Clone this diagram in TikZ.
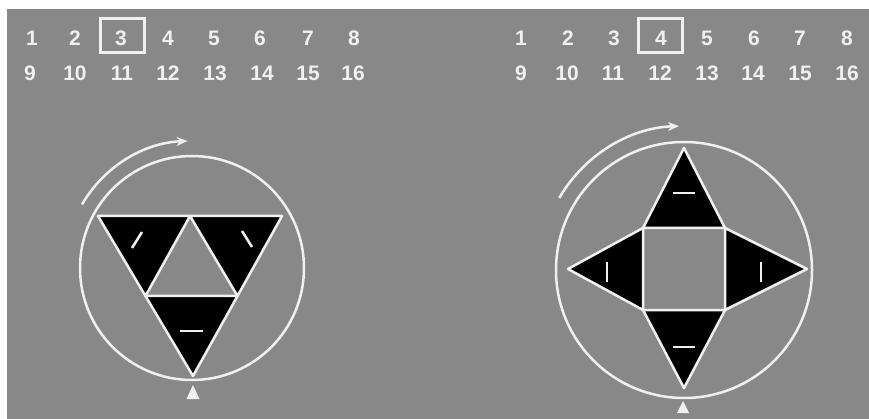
\documentclass[tikz,border=0pt]{standalone}
\usepackage{fontspec}
\setmainfont{Liberation Sans}
\usetikzlibrary{arrows.meta}
\definecolor{bg}{RGB}{136,136,136}
\definecolor{fg}{RGB}{240,240,240}
\begin{document}
\begin{tikzpicture}[x=1pt,y=-1pt,
  num/.style={text=fg,font=\bfseries\fontsize{21}{21}\selectfont,inner sep=0pt,anchor=center},
  selbox/.style={draw=fg,line width=2.5pt,minimum width=44pt,minimum height=34pt,inner sep=0pt},
  wl/.style={draw=fg,line width=2.5pt},
  blk/.style={fill=black,draw=fg,line width=2.5pt,line join=round},
  mk/.style={draw=fg,line width=2.5pt},
  rot/.style={draw=fg,line width=2.5pt,-{Stealth[length=11pt,width=9pt]}},
  tick/.style={fill=fg}]
\useasboundingbox (0,0) rectangle (869,419);
\fill[white] (0,0) rectangle (869,419);
\fill[bg] (7,9) rectangle (869,419);
% ---- number rows, left
\foreach \n/\x in {1/32,2/75,3/121,4/168,5/214,6/260,7/308,8/354}
  \node[num] (L\n) at (\x,38.5) {\n};
\foreach \n/\x in {9/30,10/75,11/122,12/168,13/215,14/262,15/308,16/353}
  \node[num] (L\n) at (\x,73.5) {\n};
\node[selbox] (boxL) at (122.5,35.5) {};
% ---- number rows, right
\foreach \n/\x in {1/521,2/568,3/614,4/661,5/707,6/754,7/800,8/847}
  \node[num] (R\n) at (\x,38.5) {\n};
\foreach \n/\x in {9/521,10/567,11/613,12/660,13/707,14/753,15/800,16/847}
  \node[num] (R\n) at (\x,73.5) {\n};
\node[selbox] (boxR) at (660.5,35.5) {};
% ---- left diagram
\draw[wl] (192,268) circle[radius=112];
\draw[blk] (98,216) -- (190,216) -- (145.5,296) -- cycle;
\draw[blk] (190,216) -- (282,216) -- (237.5,296) -- cycle;
\draw[blk] (145.5,296) -- (237.5,296) -- (193,376) -- cycle;
\draw[mk] (132,248) -- (142,232);
\draw[mk] (242,231) -- (252,247);
\draw[mk] (180,331) -- (203,331);
\draw[rot] (82,204.5) arc[start angle=-150,end angle=-92,radius=127];
\fill[tick] (193,385) -- (199.5,399) -- (186.5,399) -- cycle;
% ---- right diagram
\draw[wl] (684,270) circle[radius=128];
\draw[blk] (643,228) -- (725,228) -- (684,148) -- cycle;
\draw[blk] (643,310) -- (725,310) -- (684,388) -- cycle;
\draw[blk] (643,228) -- (643,310) -- (568,269) -- cycle;
\draw[blk] (725,228) -- (725,310) -- (807,269) -- cycle;
\draw[wl] (643,228) rectangle (725,310);
\draw[mk] (673,193) -- (695,193);
\draw[mk] (673,347) -- (695,347);
\draw[mk] (607,262) -- (607,282);
\draw[mk] (761,262) -- (761,282);
\draw[rot] (559.3,198) arc[start angle=-150,end angle=-92,radius=144];
\fill[tick] (683,401) -- (689,413) -- (677,413) -- cycle;
\end{tikzpicture}
\end{document}
